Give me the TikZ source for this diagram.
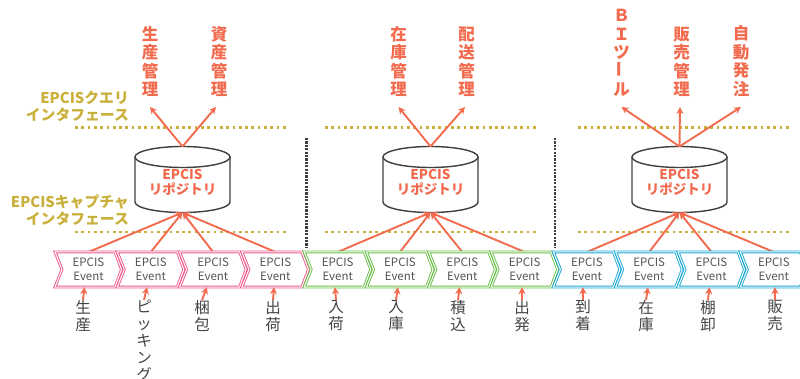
\documentclass[tikz,border=0pt]{standalone}
\usepackage{fontspec}
\setmainfont{Noto Sans CJK JP}
\usetikzlibrary{arrows.meta}
\definecolor{arr}{HTML}{F26B4F}
\definecolor{gold}{HTML}{C9B03A}
\definecolor{cpink}{HTML}{EE5A8C}
\definecolor{cgreen}{HTML}{6CC04A}
\definecolor{cblue}{HTML}{1BA9D6}
\definecolor{txtgray}{HTML}{555555}
\definecolor{labgray}{HTML}{444444}
\definecolor{cyl}{HTML}{3F3F3F}
\tikzset{
  evnode/.style={minimum width=50pt, minimum height=35pt, inner sep=0pt, align=center, text=txtgray, font=\fontsize{11.5}{13.5}\selectfont},
  arrowline/.style={draw=arr, line width=1.9pt, -{Stealth[length=7pt,width=7pt]}},
  toplab/.style={text=arr, font=\bfseries\fontsize{16.5}{18.5}\selectfont, align=center, inner sep=0pt, anchor=south},
  botlab/.style={text=labgray, font=\fontsize{15.5}{17}\selectfont, align=center, inner sep=0pt, anchor=north},
  ifacelab/.style={text=gold, font=\bfseries\fontsize{14.8}{17.5}\selectfont, align=right, inner sep=0pt, anchor=east},
  golddots/.style={draw=gold, line width=2.7pt, dash pattern=on 2.7pt off 3.6pt},
  sepdots/.style={draw=cyl, line width=2.3pt, dash pattern=on 2.2pt off 1.2pt},
  repotext/.style={inner sep=0pt, align=center, text=arr, font=\bfseries\fontsize{13.5}{15.5}\selectfont},
  cylline/.style={draw=cyl, line width=1.4pt, fill=white},
  chev/.style={draw=#1, double=white, double distance=1pt, line width=0.9pt, fill=white}
}
\begin{document}
\begin{tikzpicture}[x=1pt,y=-1pt]
\useasboundingbox (0,0) rectangle (800,379);

% interface labels
\node[ifacelab] (qif) at (129,106.5) {EPCISクエリ\\インタフェース};
\node[ifacelab] (cif) at (129,210) {EPCISキャプチャ\\インタフェース};

% dotted lines
\foreach \a/\b in {75/287, 325/537, 578/792}{
  \draw[golddots] (\a,127.7) -- (\b,127.7);
  \draw[golddots] (\a,232) -- (\b,232);
}
\draw[sepdots] (306.5,138) -- (306.5,247);
\draw[sepdots] (555,138) -- (555,247);

% cylinders
\foreach \k/\cx in {1/182.5, 2/430.5, 3/679.5}{
  \draw[cylline] (\cx-47.5,157) -- (\cx-47.5,202) arc[start angle=180, end angle=0, x radius=47.5, y radius=10.5] -- (\cx+47.5,157);
  \draw[cylline] (\cx,157) ellipse [x radius=47.5, y radius=10.5];
  \coordinate (top\k) at (\cx,146.5);
  \coordinate (bot\k) at (\cx,212.5);
  \node[repotext] (repo\k) at (\cx,182.5) {EPCIS\\リポジトリ};
}

% top labels
\node[toplab] (t1) at (150,97) {生\\産\\管\\理};
\node[toplab] (t2) at (219,97) {資\\産\\管\\理};
\node[toplab] (t3) at (398.5,97) {在\\庫\\管\\理};
\node[toplab] (t4) at (466.5,97) {配\\送\\管\\理};
\node[toplab] (t5) at (621.5,97) {Ｂ\\Ｉ\\ツ\\\rotatebox{90}{ー}\\ル};
\node[toplab] (t6) at (681.5,97) {販\\売\\管\\理};
\node[toplab] (t7) at (741,97) {自\\動\\発\\注};

\draw[arrowline] (top1) -- ([yshift=-10pt]t1.south);
\draw[arrowline] (top1) -- ([xshift=-3pt,yshift=-10pt]t2.south);
\draw[arrowline] (top2) -- ([yshift=-10pt]t3.south);
\draw[arrowline] (top2) -- ([xshift=-1.5pt,yshift=-10pt]t4.south);
\draw[arrowline] (top3) -- ([yshift=-10pt]t5.south);
\draw[arrowline] (top3) -- ([xshift=-1.5pt,yshift=-10pt]t6.south);
\draw[arrowline] (top3) -- ([yshift=-10pt]t7.south);

% event chevrons
\foreach \i/\c/\s in {1/cpink/1,2/cpink/1,3/cpink/1,4/cpink/1,5/cgreen/2,6/cgreen/2,7/cgreen/2,8/cgreen/2,9/cblue/3,10/cblue/3,11/cblue/3,12/cblue/3}{
  \pgfmathsetmacro\L{55+62.3*(\i-1)}
  \draw[arrowline] (\L+33.5,252) -- (bot\s);
  \draw[chev=\c] (\L,252) -- ++(60,0) -- ++(6.5,17.5) -- ++(-6.5,17.5) -- ++(-60,0) -- ++(7,-17.5) -- cycle;
  \node[evnode] (ev\i) at (\L+33.5,269.5) {EPCIS\\Event};
}

% bottom labels
\foreach \i/\lx/\d/\txt in {1/83/1.5/{生\\産}, 2/144/3/{ピ\\ッ\\キ\\ン\\グ}, 3/202/5/{梱\\包}, 4/273/1/{出\\荷},
  5/336/-1/{入\\荷}, 6/396/2/{入\\庫}, 7/458/1.5/{積\\込}, 8/522/0/{出\\発},
  9/583/0/{到\\着}, 10/646/2/{在\\庫}, 11/708/1.5/{棚\\卸}, 12/775/0/{販\\売}}{
  \node[botlab] (b\i) at (\lx,300) {\txt};
  \draw[arrowline] (b\i.north) -- ([xshift=\d pt]b\i.north |- ev\i.south);
}
\end{tikzpicture}
\end{document}
